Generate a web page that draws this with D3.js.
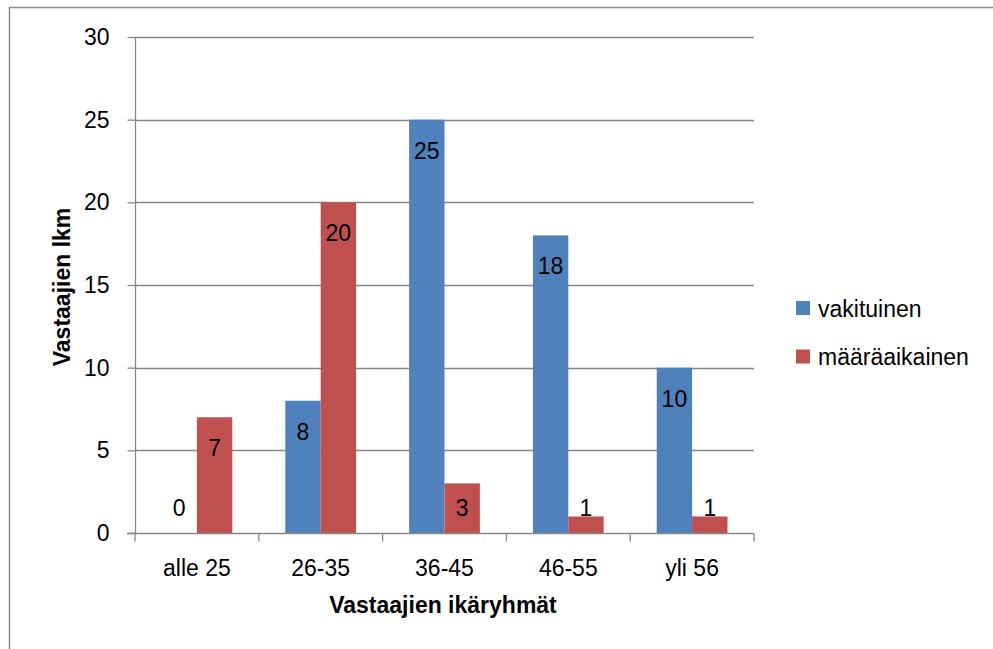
<!DOCTYPE html>
<html>
<head>
<meta charset="utf-8">
<script src="https://cdn.jsdelivr.net/npm/d3@7"></script>
<style>
  html, body { margin: 0; padding: 0; background: #fff; }
  svg { display: block; }
  text { font-family: "Liberation Sans", Arial, sans-serif; fill: #000; }
</style>
</head>
<body>
<svg id="chart" width="993" height="649"></svg>
<script>
// Age groups and respondent counts by employment type
const categories = ["alle 25", "26-35", "36-45", "46-55", "yli 56"];
const seriesNames = ["vakituinen", "määräaikainen"];
const vakituinen = [0, 8, 25, 18, 10];
const maaraaikainen = [7, 20, 3, 1, 1];
const yTicks = [0, 5, 10, 15, 20, 25, 30];
const colors = ["#4F81BD", "#C0504D"];

const seriesValues = [vakituinen, maaraaikainen];
const rows = categories.map((c, i) => ({
  category: c,
  values: seriesNames.map((s, k) => ({ series: s, k, value: seriesValues[k][i] }))
}));

const svg = d3.select("#chart");
const plot = { left: 135, right: 754, top: 37, bottom: 533 };
const fontSize = 23;
const gridColor = "#878787";

// outer chart frame
svg.append("rect")
  .attr("x", 9.5).attr("y", 7.5)
  .attr("width", 1100).attr("height", 800)
  .attr("fill", "none").attr("stroke", "#8c8c8c").attr("stroke-width", 1.5);

const x = d3.scaleBand()
  .domain(categories)
  .range([plot.left, plot.right])
  .paddingInner(3 / 7)
  .paddingOuter(3 / 14);

const xs = d3.scaleBand()
  .domain(seriesNames)
  .range([0, x.bandwidth()]);

const y = d3.scaleLinear()
  .domain([0, 30])
  .range([plot.bottom, plot.top]);

// horizontal gridlines
svg.append("g")
  .selectAll("line")
  .data(yTicks.filter(t => t > 0))
  .join("line")
  .attr("x1", plot.left).attr("x2", plot.right)
  .attr("y1", d => Math.round(y(d)) + 0.5).attr("y2", d => Math.round(y(d)) + 0.5)
  .attr("stroke", gridColor).attr("stroke-width", 1.3);

// bars
const groups = svg.append("g")
  .selectAll("g")
  .data(rows)
  .join("g")
  .attr("transform", d => `translate(${x(d.category)},0)`);

groups.selectAll("rect")
  .data(d => d.values)
  .join("rect")
  .attr("x", d => xs(d.series))
  .attr("width", xs.bandwidth())
  .attr("y", d => y(d.value))
  .attr("height", d => y(0) - y(d.value))
  .attr("fill", d => colors[d.k]);

// value labels just inside the bar end, kept above the baseline
groups.selectAll("text")
  .data(d => d.values)
  .join("text")
  .attr("x", d => xs(d.series) + xs.bandwidth() / 2)
  .attr("y", d => Math.min(y(d.value) + 31, y(0) - 25))
  .attr("text-anchor", "middle")
  .attr("dominant-baseline", "central")
  .style("font-size", fontSize + "px")
  .text(d => d.value);

// y axis
const yAxis = svg.append("g")
  .attr("transform", `translate(${plot.left + 0.5},0)`)
  .call(d3.axisLeft(y).tickValues(yTicks).tickSize(8).tickPadding(18).tickFormat(d3.format("d")));
yAxis.select(".domain").attr("stroke", gridColor).attr("stroke-width", 1.3).attr("d", `M0,${plot.top}V${plot.bottom}`);
yAxis.selectAll(".tick line").attr("stroke", gridColor).attr("stroke-width", 1.3);
yAxis.selectAll(".tick text").style("font-size", fontSize + "px").attr("font-family", null);

// x axis with ticks on category boundaries
const xAxisG = svg.append("g")
  .attr("transform", `translate(0,${plot.bottom + 0.5})`);
xAxisG.append("line")
  .attr("x1", plot.left - 8).attr("x2", plot.right)
  .attr("stroke", gridColor).attr("stroke-width", 1.3);
const boundaries = categories.map(c => x(c) - x.step() * x.paddingInner() / 2).concat([plot.right]);
xAxisG.selectAll("line.tick")
  .data(boundaries)
  .join("line")
  .attr("class", "tick")
  .attr("x1", d => d).attr("x2", d => d)
  .attr("y1", 0).attr("y2", 8)
  .attr("stroke", gridColor).attr("stroke-width", 1.3);
xAxisG.selectAll("text")
  .data(categories)
  .join("text")
  .attr("x", d => x(d) + x.bandwidth() / 2)
  .attr("y", 42)
  .attr("text-anchor", "middle")
  .style("font-size", fontSize + "px")
  .text(d => d);

// axis titles
svg.append("text")
  .attr("x", 443).attr("y", 613)
  .attr("text-anchor", "middle")
  .style("font-size", fontSize + "px").style("font-weight", "bold")
  .text("Vastaajien ikäryhmät");

svg.append("text")
  .attr("transform", "translate(70,287) rotate(-90)")
  .attr("text-anchor", "middle")
  .style("font-size", fontSize + "px").style("font-weight", "bold")
  .text("Vastaajien lkm");

// legend
const legend = svg.append("g")
  .selectAll("g")
  .data(seriesNames)
  .join("g")
  .attr("transform", (d, i) => `translate(796,${301 + i * 48.5})`);
legend.append("rect")
  .attr("width", 14).attr("height", 14)
  .attr("fill", (d, i) => colors[i]);
legend.append("text")
  .attr("x", 22).attr("y", 15.5)
  .style("font-size", fontSize + "px")
  .text(d => d);
</script>
</body>
</html>
